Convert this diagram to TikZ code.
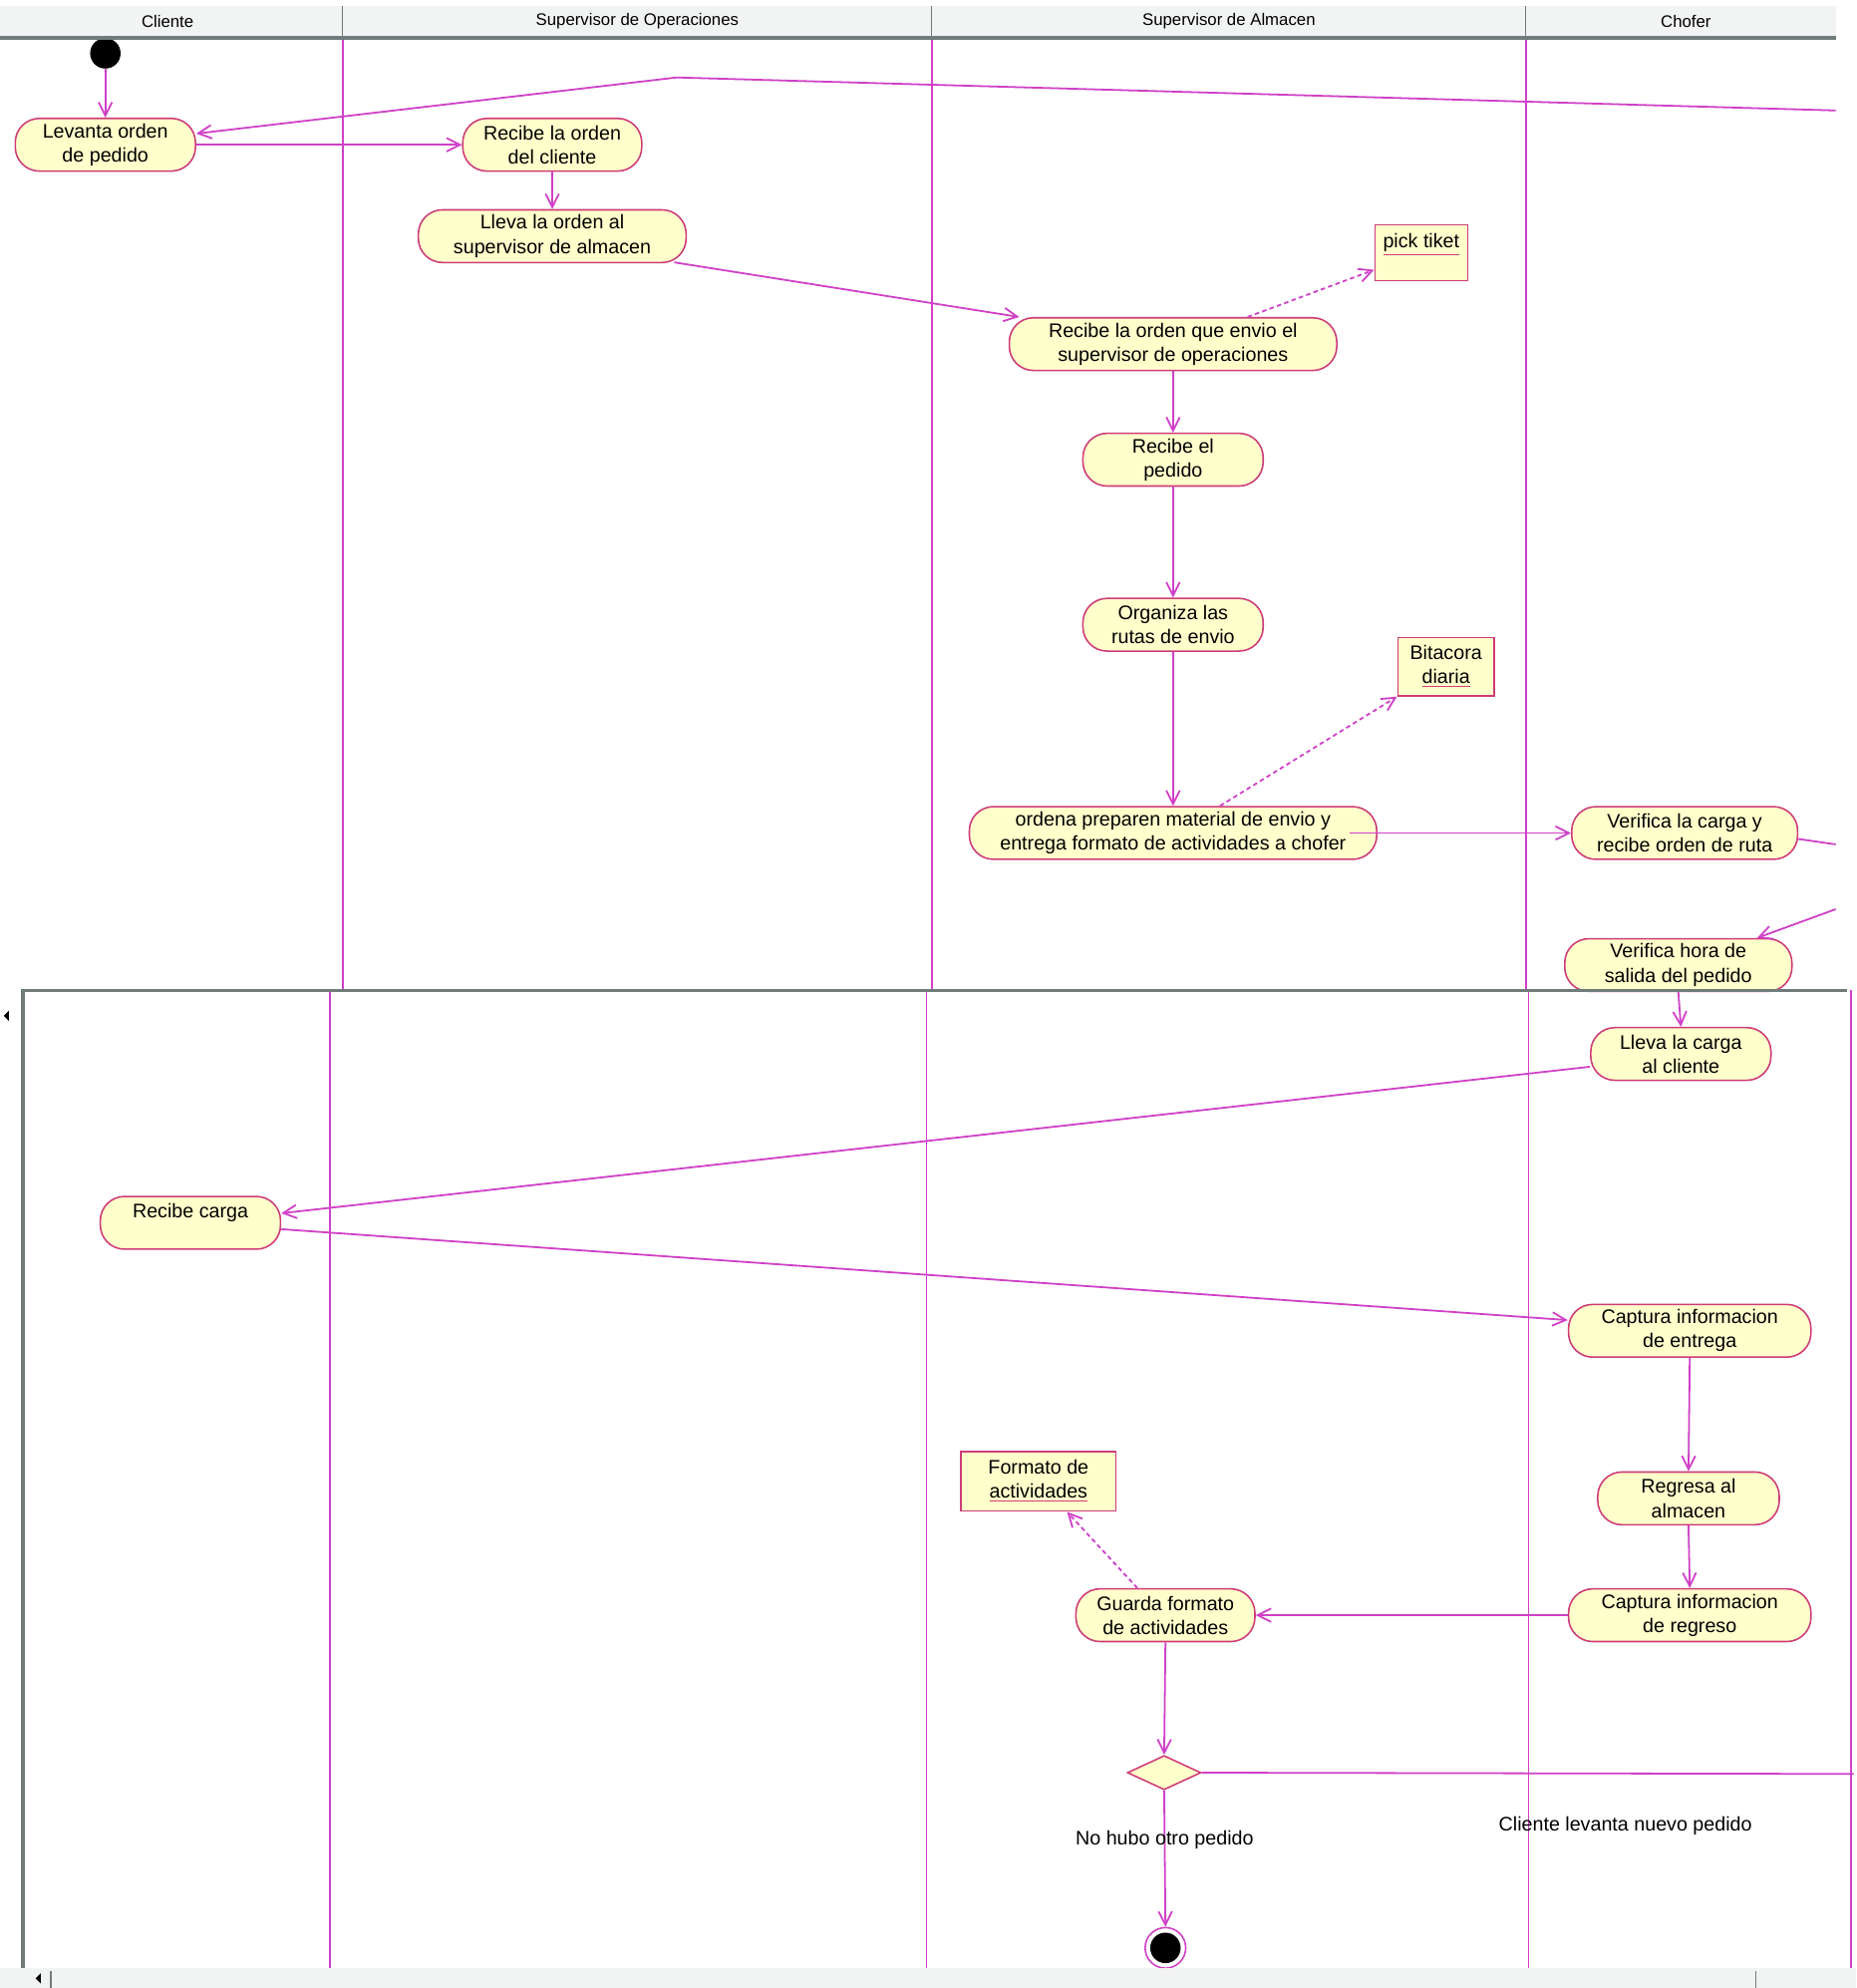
\documentclass[tikz,border=0pt]{standalone}
\usepackage{fontspec}
\setmainfont{Liberation Sans}
\usetikzlibrary{positioning, arrows.meta, shapes.geometric}
\definecolor{lnc}{RGB}{208,64,200}
\definecolor{bdc}{RGB}{206,60,120}
\definecolor{actfill}{RGB}{255,255,204}
\definecolor{hdr}{RGB}{242,243,243}
\definecolor{frm}{RGB}{112,124,124}
\newcommand{\objline}[1]{\textcolor{bdc}{\underline{\textcolor{black}{#1}}}}
\tikzset{
  act/.style={draw=bdc, fill=actfill, rounded corners=0.38cm, minimum height=0.83cm, align=center, inner sep=1pt, line width=0.7pt, font=\fontsize{8.8}{10.8}\selectfont},
  obj/.style={draw=bdc, fill=actfill, align=center, inner sep=1pt, line width=0.7pt, font=\fontsize{8.8}{10.8}\selectfont},
  flow/.style={draw=lnc, line width=0.8pt, -{Straight Barb[length=6pt,width=6pt]}},
  dep/.style={flow, dash pattern=on 2pt off 1.5pt},
  lane/.style={draw=lnc, line width=0.6pt},
  lbl/.style={font=\fontsize{8.8}{10.8}\selectfont, inner sep=0pt, text=black},
  hdrlbl/.style={font=\fontsize{7.5}{9}\selectfont, inner sep=0pt}
}
\begin{document}
\begin{tikzpicture}[x=0.02cm, y=-0.02cm]
\useasboundingbox (0,0) rectangle (1462,1565.6);
\fill[white] (0,0) rectangle (1462,1565.6);

\fill[hdr] (0,5) rectangle (1446,30);
\foreach \x in {270,734,1202} \draw[frm, line width=0.5pt] (\x,5) -- (\x,30);
\node[hdrlbl] at (132,17) (h1) {Cliente};
\node[hdrlbl] at (502,17) (h2) {Supervisor de Operaciones};
\node[hdrlbl] at (968,17) (h3) {Supervisor de Almacen};
\node[hdrlbl] at (1328,17) (h4) {Chofer};

\foreach \x in {270,734,1202} \draw[lane] (\x,30) -- (\x,780);
\foreach \x in {260,730,1204,1458} \draw[lane] (\x,780) -- (\x,1550);

\node[circle, fill=black, minimum size=0.48cm, inner sep=0pt] at (83,42) (start) {};
\node[act, minimum width=2.84cm] at (83,114) (levanta) {Levanta orden\\de pedido};
\node[act, minimum width=2.82cm] at (435,114) (recibe) {Recibe la orden\\del cliente};
\node[act, minimum width=4.22cm] at (435,186) (llevaorden) {Lleva la orden al\\supervisor de almacen};
\node[act, minimum width=5.16cm] at (924,271) (recibeorden) {Recibe la orden que envio el\\supervisor de operaciones};
\node[obj, minimum width=1.46cm, minimum height=0.88cm] at (1119.5,199) (tiket) {\objline{pick tiket}\\~};
\node[act, minimum width=2.84cm] at (924,362) (pedido) {Recibe el\\pedido};
\node[act, minimum width=2.84cm] at (924,492) (organiza) {Organiza las\\rutas de envio};
\node[obj, minimum width=1.52cm, minimum height=0.92cm] at (1139,525) (bitacora) {Bitacora\\\objline{diaria}};
\node[act, minimum width=6.42cm] at (924,656) (ordena) {ordena preparen material de envio y\\entrega formato de actividades a chofer};
\node[act, minimum width=3.56cm] at (1327,656) (verificacarga) {Verifica la carga y\\recibe orden de ruta};
\node[act, minimum width=3.58cm] at (1322,760) (verificahora) {Verifica hora de\\salida del pedido};
\node[act, minimum width=2.84cm] at (1324,830) (llevacarga) {Lleva la carga\\al cliente};
\node[act, minimum width=2.84cm] at (150,963) (recibecarga) {Recibe carga\\~};
\node[act, minimum width=3.82cm] at (1331,1048) (capentrega) {Captura informacion\\de entrega};
\node[act, minimum width=2.86cm] at (1330,1180) (regresa) {Regresa al\\almacen};
\node[act, minimum width=3.82cm] at (1331,1272) (capregreso) {Captura informacion\\de regreso};
\node[act, minimum width=2.82cm] at (918,1272) (guarda) {Guarda formato\\de actividades};
\node[obj, minimum width=2.44cm, minimum height=0.94cm] at (818,1166.5) (formato) {Formato de\\\objline{actividades}};
\node[diamond, draw=bdc, fill=actfill, line width=0.7pt, minimum width=1.16cm, minimum height=0.54cm, inner sep=0pt] at (917,1396) (decide) {};
\node[circle, draw=lnc, fill=white, line width=0.7pt, minimum size=0.64cm, inner sep=0pt] at (918,1534) (fin) {};
\node[circle, fill=black, minimum size=0.48cm, inner sep=0pt] at (fin) (finin) {};

\coordinate (loopin) at (1446,87);
\coordinate (bend) at (533,61);
\coordinate (cargaout) at (1446,665);
\coordinate (horain) at (1446,716);
\coordinate (loopout) at (1460,1397);

\draw[flow] (start) -- (levanta.north);
\draw[flow] (loopin) -- (bend) -- (levanta.7);
\draw[flow] (levanta.east) -- (recibe.west);
\draw[flow] (recibe.south) -- (llevaorden.north);
\draw[flow] ([xshift=-0.2cm]llevaorden.-11) -- (recibeorden.170);
\draw[dep] (recibeorden.20) -- (tiket.200);
\draw[flow] (recibeorden.south) -- (pedido.north);
\draw[flow] (pedido.south) -- (organiza.north);
\draw[flow] (organiza.south) -- (ordena.north);
\draw[dep] (ordena.30) -- (bitacora.south west);
\draw[flow] ([xshift=-0.44cm]ordena.east) -- (verificacarga.west);
\draw[lnc, line width=0.8pt] (verificacarga.-3) -- (cargaout);
\draw[flow] (horain) -- (verificahora.19);
\draw[flow] (verificahora.south) -- (llevacarga.north);
\draw[flow] (llevacarga.188) -- (recibecarga.6);
\draw[flow] (recibecarga.-4) -- (capentrega.175);
\draw[flow] (capentrega.south) -- (regresa.north);
\draw[flow] (regresa.south) -- (capregreso.north);
\draw[flow] (capregreso.west) -- (guarda.east);
\draw[dep] (guarda.136) -- (formato.-47);
\draw[flow] (guarda.south) -- (decide.north);
\draw[lnc, line width=0.8pt] (decide.east) -- node[lbl, pos=0.65, yshift=-0.82cm] {Cliente levanta nuevo pedido} (loopout);
\draw[flow] (decide.south) -- node[lbl, pos=0.36] {No hubo otro pedido} (fin.north);

\draw[frm, line width=1.7pt] (0,30) -- (1446,30);
\draw[frm, line width=1.5pt] (18,1550) -- (18,780) -- (1455,780);
\fill[hdr] (0,1550) rectangle (1462,1565.6);
\draw[frm, line width=0.6pt] (40,1552) -- (40,1565.6);
\draw[frm, line width=0.6pt] (1383,1552) -- (1383,1565.6);
\fill[black] (3,800) -- (7,796) -- (7,804) -- cycle;
\fill[black] (28,1558) -- (32,1554) -- (32,1562) -- cycle;
\end{tikzpicture}
\end{document}
